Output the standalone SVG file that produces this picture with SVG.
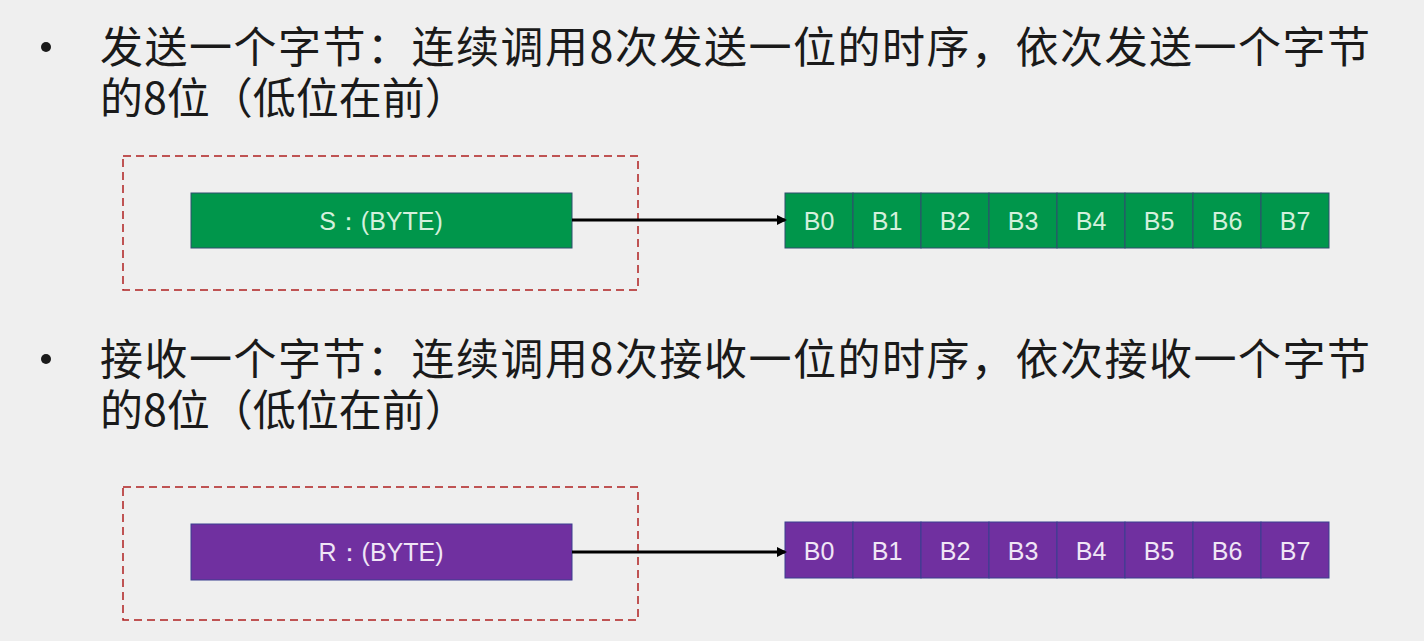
<svg xmlns="http://www.w3.org/2000/svg" width="1424" height="641" viewBox="0 0 1424 641">
<style>
.bg{fill:#efefef}
.t{font-family:"Noto Sans CJK SC","Noto Sans",sans-serif;font-size:43px;fill:#1a1a1a}
.dash{fill:none;stroke:#b02020;stroke-width:1.5;stroke-dasharray:8,5}
.g{fill:#00964b;stroke:#2f4f6f;stroke-width:1}
.p{fill:#7030a0;stroke:#3a3f8f;stroke-width:1}
.bt{font-family:"Liberation Sans","Noto Sans",sans-serif;font-size:25px;text-anchor:middle;dominant-baseline:central}
.gt{fill:#d4f0dc}
.pt{fill:#f0e6f6}
.conn{stroke:#000;stroke-width:3;fill:none}
</style>
<defs>
<marker id="ah" markerWidth="10" markerHeight="10" refX="8" refY="5" orient="auto" markerUnits="userSpaceOnUse">
<path d="M0,0 L10,5 L0,10 z" fill="#000"/>
</marker>
</defs>
<rect class="bg" x="0" y="0" width="1424" height="641"/>

<g id="text1">
<circle cx="46" cy="47" r="5" fill="#1a1a1a"/>
<text class="t"><tspan x="100" y="63" textLength="1270" lengthAdjust="spacing">发送一个字节：连续调用8次发送一位的时序，依次发送一个字节</tspan><tspan x="100" y="114">的8位（低位在前）</tspan></text>
</g>
<g id="text2">
<circle cx="46" cy="359" r="5" fill="#1a1a1a"/>
<text class="t"><tspan x="100" y="375" textLength="1270" lengthAdjust="spacing">接收一个字节：连续调用8次接收一位的时序，依次接收一个字节</tspan><tspan x="100" y="426">的8位（低位在前）</tspan></text>
</g>

<g id="frame1"><rect class="dash" x="123" y="156" width="515" height="134"/></g>
<g id="frame2"><rect class="dash" x="123" y="487" width="515" height="133"/></g>

<g id="sendByte">
<rect class="g" x="191" y="193" width="381" height="55"/>
<text class="bt gt" x="381" y="221">S：(BYTE)</text>
</g>
<g id="recvByte">
<rect class="p" x="191" y="524" width="381" height="56"/>
<text class="bt pt" x="381" y="552">R：(BYTE)</text>
</g>

<g id="sendBits">
<rect class="g" x="785" y="193" width="68" height="55"/><text class="bt gt" x="819" y="221">B0</text>
<rect class="g" x="853" y="193" width="68" height="55"/><text class="bt gt" x="887" y="221">B1</text>
<rect class="g" x="921" y="193" width="68" height="55"/><text class="bt gt" x="955" y="221">B2</text>
<rect class="g" x="989" y="193" width="68" height="55"/><text class="bt gt" x="1023" y="221">B3</text>
<rect class="g" x="1057" y="193" width="68" height="55"/><text class="bt gt" x="1091" y="221">B4</text>
<rect class="g" x="1125" y="193" width="68" height="55"/><text class="bt gt" x="1159" y="221">B5</text>
<rect class="g" x="1193" y="193" width="68" height="55"/><text class="bt gt" x="1227" y="221">B6</text>
<rect class="g" x="1261" y="193" width="68" height="55"/><text class="bt gt" x="1295" y="221">B7</text>
</g>
<g id="recvBits">
<rect class="p" x="785" y="522" width="68" height="56"/><text class="bt pt" x="819" y="551">B0</text>
<rect class="p" x="853" y="522" width="68" height="56"/><text class="bt pt" x="887" y="551">B1</text>
<rect class="p" x="921" y="522" width="68" height="56"/><text class="bt pt" x="955" y="551">B2</text>
<rect class="p" x="989" y="522" width="68" height="56"/><text class="bt pt" x="1023" y="551">B3</text>
<rect class="p" x="1057" y="522" width="68" height="56"/><text class="bt pt" x="1091" y="551">B4</text>
<rect class="p" x="1125" y="522" width="68" height="56"/><text class="bt pt" x="1159" y="551">B5</text>
<rect class="p" x="1193" y="522" width="68" height="56"/><text class="bt pt" x="1227" y="551">B6</text>
<rect class="p" x="1261" y="522" width="68" height="56"/><text class="bt pt" x="1295" y="551">B7</text>
</g>

<g id="connectors">
<line class="conn" x1="572" y1="220" x2="785" y2="220" marker-end="url(#ah)"/>
<line class="conn" x1="572" y1="552" x2="785" y2="552" marker-end="url(#ah)"/>
</g>
</svg>
